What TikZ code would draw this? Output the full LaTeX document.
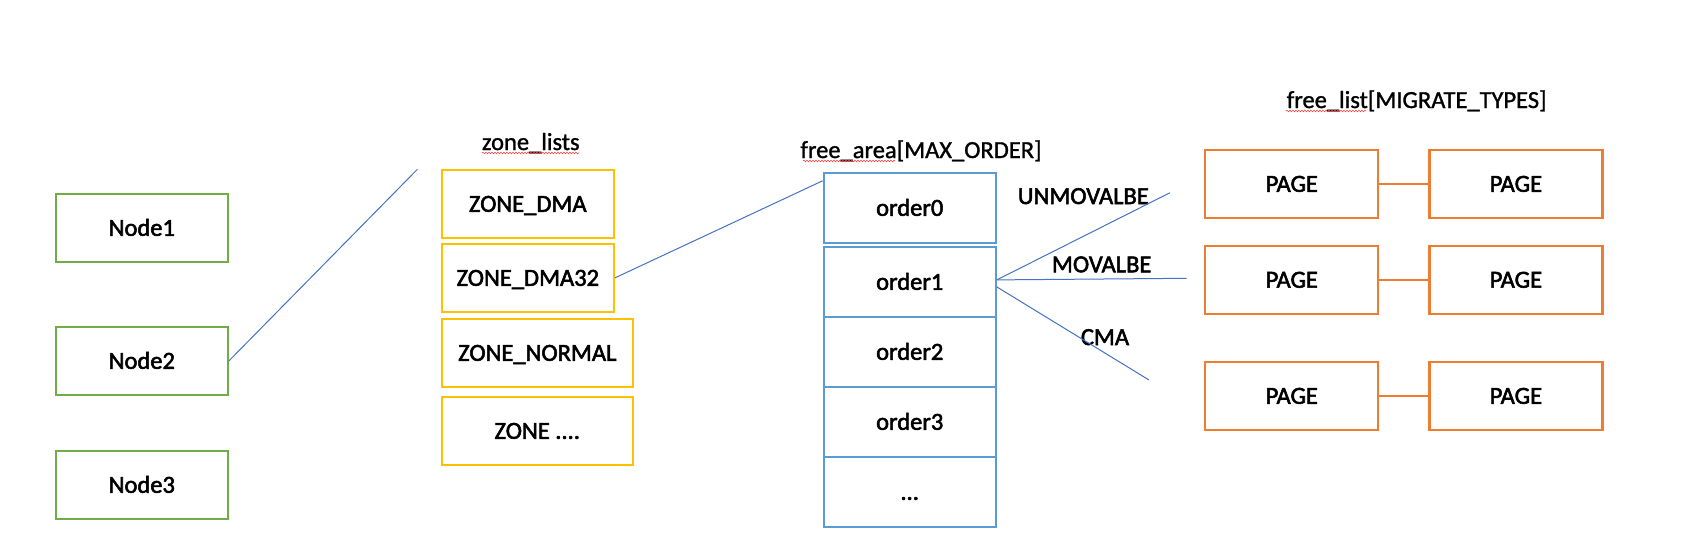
\documentclass[tikz,border=0pt]{standalone}
\usepackage{fontspec}
\setmainfont{Carlito}[FakeBold=1.2]
\newfontfamily\heavyfont{Carlito}[FakeBold=2.2]
\usetikzlibrary{decorations.pathmorphing}
\definecolor{cgreen}{HTML}{70AD47}
\definecolor{cyellow}{HTML}{FFC000}
\definecolor{cblue}{HTML}{5B9BD5}
\definecolor{clink}{HTML}{4472C4}
\definecolor{corange}{HTML}{ED7D31}
\definecolor{csquig}{HTML}{FF4040}
\begin{document}
\begin{tikzpicture}[x=1pt,y=-1pt,
  every node/.style={font=\fontsize{24.5}{29}\selectfont},
  box/.style={draw, line width=2.2pt, inner sep=0pt, minimum height=68pt,
    text height=15.8pt, text depth=0pt, align=center,
    font=\heavyfont\fontsize{24.5}{29}\selectfont},
  nodebox/.style={box, draw=cgreen, minimum width=172pt},
  zonebox/.style={box, draw=cyellow, minimum width=172pt},
  zonewide/.style={box, draw=cyellow, minimum width=191pt},
  orderbox/.style={box, draw=cblue, minimum width=172pt, minimum height=70pt},
  pagebox/.style={box, draw=corange, minimum width=173pt},
  link/.style={draw=clink, line width=1pt},
  plink/.style={draw=corange, line width=2.2pt},
  title/.style={anchor=base, inner sep=0pt},
  mlabel/.style={anchor=base, inner sep=0pt, font=\heavyfont\fontsize{24.5}{29}\selectfont},
  squig/.style={draw=csquig, line width=0.6pt, decorate,
    decoration={snake, amplitude=0.8pt, segment length=3pt}}]
\useasboundingbox (0,0) rectangle (1699,535);

% NUMA nodes
\node[nodebox] (n1) at (141.8,227.9) {Node1};
\node[nodebox] (n2) at (141.8,360.9) {Node2};
\node[nodebox] (n3) at (141.8,484.9) {Node3};

% zones
\node[title] (zl) at (530.8,150) {zone\_lists};
\node[zonebox] (z1) at (527.8,203.9) {ZONE\_DMA};
\node[zonebox] (z2) at (527.8,277.9) {ZONE\_DMA32};
\node[zonewide] (z3) at (537.3,352.9) {ZONE\_NORMAL};
\node[zonewide] (z4) at (537.3,430.9) {ZONE ....};

% free areas
\node[title] (fa) at (921,158) {free\_area[MAX\_ORDER]};
\node[orderbox] (o0) at (909.7,207.9) {order0};
\node[orderbox] (o1) at (909.7,281.9) {order1};
\node[orderbox] (o2) at (909.7,351.9) {order2};
\node[orderbox] (o3) at (909.7,421.9) {order3};
\node[orderbox] (o4) at (909.7,491.9) {...};

% migrate type labels
\node[mlabel] (lu) at (1083.3,204) {UNMOVALBE};
\node[mlabel] (lm) at (1101.7,272.3) {MOVALBE};
\node[mlabel] (lc) at (1105,345) {CMA};

% free lists
\node[title] (fl) at (1416.7,108) {free\_list[MIGRATE\_TYPES]};
\node[pagebox] (p11) at (1291.8,183.9) {PAGE};
\node[pagebox] (p12) at (1515.9,183.9) {PAGE};
\node[pagebox] (p21) at (1291.8,279.8) {PAGE};
\node[pagebox] (p22) at (1515.9,279.8) {PAGE};
\node[pagebox] (p31) at (1291.8,395.9) {PAGE};
\node[pagebox] (p32) at (1515.9,395.9) {PAGE};

% free ends
\coordinate (zend) at (417.4,169.3);
\coordinate (uend) at (1170,192.7);
\coordinate (mend) at (1186.7,278.3);
\coordinate (cend) at (1149,380);

% connectors
\draw[link] (n2.east) -- (zend);
\draw[link] (z2.east) -- ([yshift=-9pt]o0.north west);
\draw[link] ([yshift=2pt]o1.east) -- (uend);
\draw[link] ([yshift=2pt]o1.east) -- (mend);
\draw[link] ([yshift=-5pt]o1.east) -- (cend);
\draw[plink] (p11) -- (p12);
\draw[plink] (p21) -- (p22);
\draw[plink] (p31) -- (p32);

% spell-check squiggles
\draw[squig] (482,153) -- (579,153);
\draw[squig] (803,161) -- (895,161);
\draw[squig] (1286,111) -- (1366,111);
\end{tikzpicture}
\end{document}
